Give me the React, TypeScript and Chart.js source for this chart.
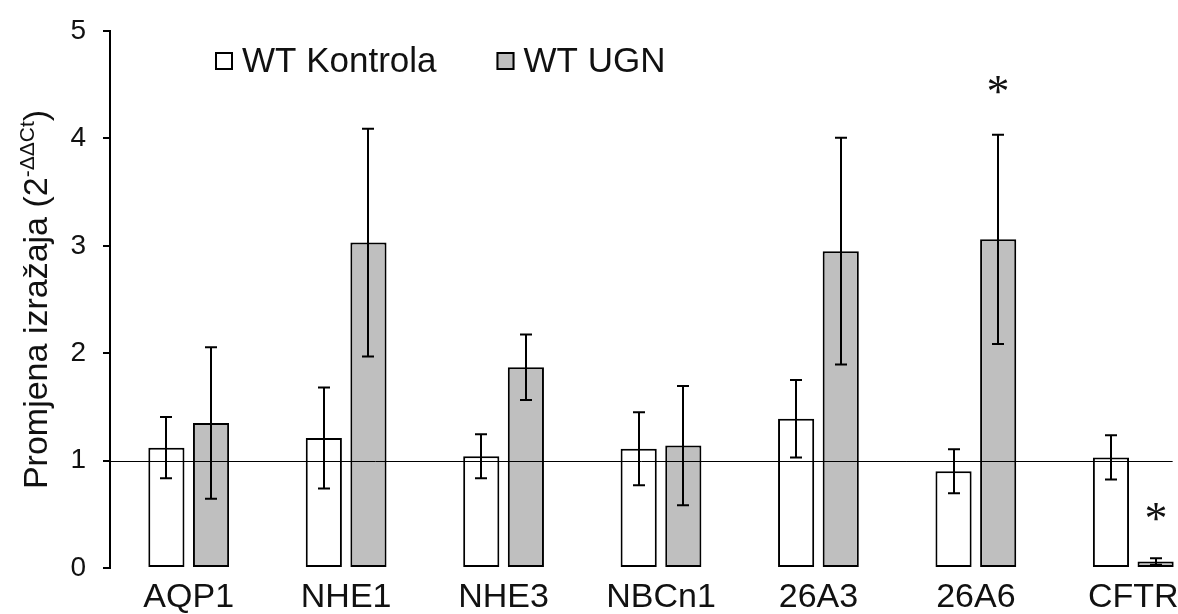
import React, { useEffect, useRef } from "react";
import { Chart, registerables } from "chart.js";

Chart.register(...registerables);

const categories = ["AQP1", "NHE1", "NHE3", "NBCn1", "26A3", "26A6", "CFTR"];
const seriesLabels = ["WT Kontrola", "WT UGN"];
const kontrolaValues = [1.12, 1.21, 1.04, 1.11, 1.39, 0.9, 1.03];
const kontrolaErrors = [0.285, 0.47, 0.205, 0.34, 0.36, 0.205, 0.205];
const ugnValues = [1.35, 3.03, 1.87, 1.14, 2.95, 3.06, 0.06];
const ugnErrors = [0.705, 1.06, 0.305, 0.555, 1.055, 0.975, 0.03];
const ugnSignificance: (number | null)[] = [null, null, null, null, null, 4.5, 0.52];
const yMin = 0;
const yMax = 5;
const yStep = 1;
const referenceLevel = 1;
const axisTitleMain = "Promjena izražaja (2";
const axisTitleSup = "-ΔΔCt";
const axisTitleEnd = ")";

const SANS = '"Liberation Sans", Arial, sans-serif';
const SERIF = '"Liberation Serif", "Times New Roman", serif';
const seriesColors = ["#ffffff", "#bfbfbf"];
const seriesErrors = [kontrolaErrors, ugnErrors];
const seriesSignificance: (number | null)[][] = [[], ugnSignificance];

const overlayPlugin = {
  id: "overlay",
  afterDatasetsDraw(chart: any) {
    const ctx = chart.ctx;
    const xs = chart.scales.x;
    const ys = chart.scales.y;
    const area = chart.chartArea;
    ctx.save();
    // reference line at 1
    const yRef = Math.round(ys.getPixelForValue(referenceLevel)) + 0.5;
    const catW = xs.getPixelForValue(1) - xs.getPixelForValue(0);
    const lineEnd = xs.getPixelForValue(categories.length - 1) + catW * 0.25;
    ctx.strokeStyle = "#000";
    ctx.lineWidth = 1;
    ctx.beginPath();
    ctx.moveTo(area.left, yRef);
    ctx.lineTo(lineEnd, yRef);
    ctx.stroke();

    // error bars
    ctx.lineWidth = 2;
    chart.data.datasets.forEach((ds: any, i: number) => {
      const meta = chart.getDatasetMeta(i);
      meta.data.forEach((bar: any, j: number) => {
        const v = ds.data[j];
        const e = seriesErrors[i][j];
        const x = Math.round(bar.x);
        const yh = ys.getPixelForValue(v + e);
        const yl = ys.getPixelForValue(v - e);
        ctx.strokeStyle = "#000";
        ctx.beginPath();
        ctx.moveTo(x, yh);
        ctx.lineTo(x, yl);
        ctx.moveTo(x - 6, yh);
        ctx.lineTo(x + 6, yh);
        ctx.moveTo(x - 6, yl);
        ctx.lineTo(x + 6, yl);
        ctx.stroke();
        const sig = seriesSignificance[i][j];
        if (sig !== null && sig !== undefined) {
          ctx.fillStyle = "#111";
          ctx.font = `46px ${SERIF}`;
          ctx.textAlign = "center";
          ctx.textBaseline = "alphabetic";
          const m = ctx.measureText("*");
          const yc = ys.getPixelForValue(sig);
          const off = (m.actualBoundingBoxAscent - m.actualBoundingBoxDescent) / 2;
          ctx.fillText("*", x, yc + off);
        }
      });
    });

    // legend
    let lx = area.left + 105;
    const ly = 61;
    ctx.font = `35px ${SANS}`;
    ctx.textBaseline = "middle";
    ctx.textAlign = "left";
    chart.data.datasets.forEach((ds: any, i: number) => {
      ctx.fillStyle = seriesColors[i];
      ctx.fillRect(lx, ly - 9, 18, 18);
      ctx.strokeStyle = "#000";
      ctx.lineWidth = 2;
      ctx.strokeRect(lx + 1, ly - 8, 16, 16);
      ctx.fillStyle = "#111";
      ctx.fillText(ds.label, lx + 27, ly + 1);
      lx += 27 + ctx.measureText(ds.label).width + 60;
    });

    // y title with superscript, centred on the plot area
    ctx.save();
    ctx.translate(area.left - 63, (area.top + area.bottom) / 2);
    ctx.rotate(-Math.PI / 2);
    ctx.textBaseline = "alphabetic";
    ctx.textAlign = "left";
    const mainFont = `34px ${SANS}`;
    const supFont = `21px ${SANS}`;
    ctx.font = mainFont;
    const w1 = ctx.measureText(axisTitleMain).width;
    const w3 = ctx.measureText(axisTitleEnd).width;
    ctx.font = supFont;
    const w2 = ctx.measureText(axisTitleSup).width;
    const total = w1 + w2 + w3;
    let tx = -total / 2;
    ctx.fillStyle = "#111";
    ctx.font = mainFont;
    ctx.fillText(axisTitleMain, tx, 0);
    tx += w1;
    ctx.font = supFont;
    ctx.fillText(axisTitleSup, tx, -13);
    tx += w2;
    ctx.font = mainFont;
    ctx.fillText(axisTitleEnd, tx, 0);
    ctx.restore();

    ctx.restore();
  },
};

export default function App() {
  const ref = useRef<HTMLCanvasElement | null>(null);
  useEffect(() => {
    if (!ref.current) return;
    const chart = new Chart(ref.current, {
      type: "bar",
      data: {
        labels: categories,
        datasets: [
          {
            label: seriesLabels[0],
            data: kontrolaValues,
            backgroundColor: seriesColors[0],
            borderColor: "#000",
            borderWidth: 2,
            borderSkipped: false,
            categoryPercentage: 0.567,
            barPercentage: 0.81,
          },
          {
            label: seriesLabels[1],
            data: ugnValues,
            backgroundColor: seriesColors[1],
            borderColor: "#000",
            borderWidth: 2,
            borderSkipped: false,
            categoryPercentage: 0.567,
            barPercentage: 0.81,
          },
        ],
      },
      options: {
        responsive: false,
        animation: false,
        devicePixelRatio: 1,
        layout: { padding: { top: 31, right: 4, left: 0, bottom: 0 } },
        plugins: {
          legend: { display: false },
          tooltip: { enabled: false },
          title: { display: false },
        },
        scales: {
          x: {
            grid: { display: false, drawTicks: false },
            border: { display: false },
            ticks: {
              color: "#111",
              font: { family: SANS, size: 34 },
              padding: 9,
              maxRotation: 0,
              autoSkip: false,
            },
            afterFit: (s: any) => {
              s.height = 46;
              s.paddingLeft = 0;
              s.paddingRight = 0;
            },
          },
          y: {
            min: yMin,
            max: yMax,
            grid: {
              display: true,
              drawOnChartArea: false,
              drawTicks: true,
              tickLength: 7,
              color: "#000",
              lineWidth: 2,
            },
            border: { display: true, color: "#000", width: 2 },
            ticks: {
              stepSize: yStep,
              color: "#111",
              font: { family: SANS, size: 28 },
              padding: 17,
            },
            afterFit: (s: any) => {
              s.width = 110;
              s.paddingTop = 0;
              s.paddingBottom = 0;
            },
          },
        },
      },
      plugins: [overlayPlugin],
    });
    return () => chart.destroy();
  }, []);
  return (
    <div
      style={{
        position: "fixed",
        left: 0,
        top: 0,
        width: 1178,
        height: 614,
        overflow: "hidden",
        background: "#fff",
      }}
    >
      <canvas ref={ref} width={1216} height={614} style={{ width: 1216, height: 614, display: "block" }} />
    </div>
  );
}
